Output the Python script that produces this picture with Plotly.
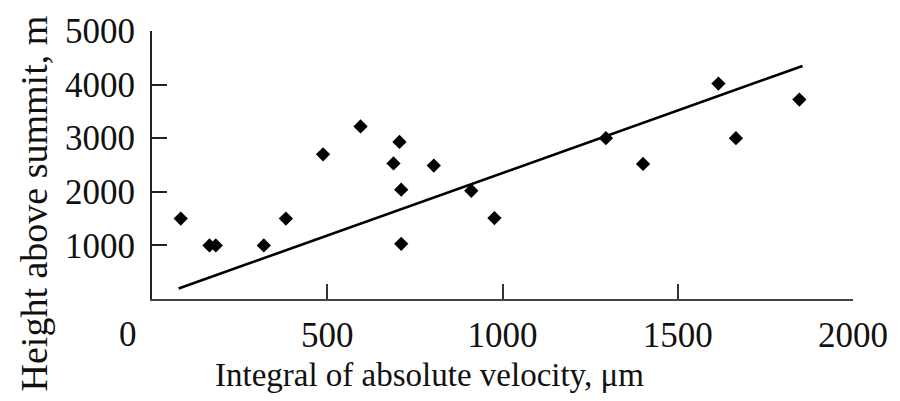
import plotly.graph_objects as go

# Data
velocity_um = [82, 164, 182, 319, 382, 488, 595, 706, 689, 711, 711, 804, 911,
               977, 1295, 1401, 1616, 1666, 1847]
height_m = [1500, 1000, 1000, 1000, 1500, 2700, 3220, 2930, 2530, 2040, 1030, 2490, 2020,
            1510, 3000, 2520, 4020, 3000, 3720]

# Regression line end points
fit_x = [76, 1856]
fit_y = [195, 4347]

x_ticks = [500, 1000, 1500, 2000]
y_ticks = [1000, 2000, 3000, 4000, 5000]

FONT = "Liberation Serif"
TXT = "#111111"

fig = go.Figure()
fig.add_trace(go.Scatter(x=fit_x, y=fit_y, mode="lines",
                         line=dict(color="black", width=2.6), hoverinfo="skip"))
fig.add_trace(go.Scatter(x=velocity_um, y=height_m, mode="markers",
                         marker=dict(symbol="diamond", size=11, color="black",
                                     line=dict(width=0))))

fig.update_layout(
    width=900, height=401,
    margin=dict(l=152, r=39, t=25, b=102),
    paper_bgcolor="white", plot_bgcolor="white",
    showlegend=False,
    font=dict(family=FONT, color=TXT),
    xaxis=dict(range=[0, 2000], tickvals=x_ticks, ticktext=[str(v) for v in x_ticks],
               ticks="inside", ticklen=15, tickwidth=2, tickcolor="#333333",
               showline=True, linecolor="#444444", linewidth=2,
               showgrid=False, zeroline=False,
               tickfont=dict(family=FONT, size=35, color=TXT),
               ticklabelstandoff=4),
    yaxis=dict(range=[0, 5000], tickvals=y_ticks, ticktext=[str(v) for v in y_ticks],
               ticks="inside", ticklen=15, tickwidth=2, tickcolor="#222222",
               showline=True, linecolor="#222222", linewidth=2,
               showgrid=False, zeroline=False,
               tickfont=dict(family=FONT, size=35, color=TXT),
               ticklabelstandoff=8),
)

# shared origin label "0"
fig.add_annotation(text="0", xref="paper", yref="paper",
                   x=(128 - 152) / 709, y=-(335 - 299) / 274,
                   xanchor="center", yanchor="middle", showarrow=False,
                   font=dict(family=FONT, size=35, color=TXT))
# axis titles
fig.add_annotation(text="Integral of absolute velocity, μm", xref="paper", yref="paper",
                   x=(433 - 152) / 709, y=-(377 - 299) / 274,
                   xanchor="center", yanchor="middle", showarrow=False,
                   font=dict(family=FONT, size=33, color=TXT))
fig.add_annotation(text="Height above summit, m", xref="paper", yref="paper",
                   x=(33 - 152) / 709, y=(299 - 201) / 274, textangle=-90,
                   xanchor="center", yanchor="middle", showarrow=False,
                   font=dict(family=FONT, size=38, color=TXT))

fig.write_html("out.html")
